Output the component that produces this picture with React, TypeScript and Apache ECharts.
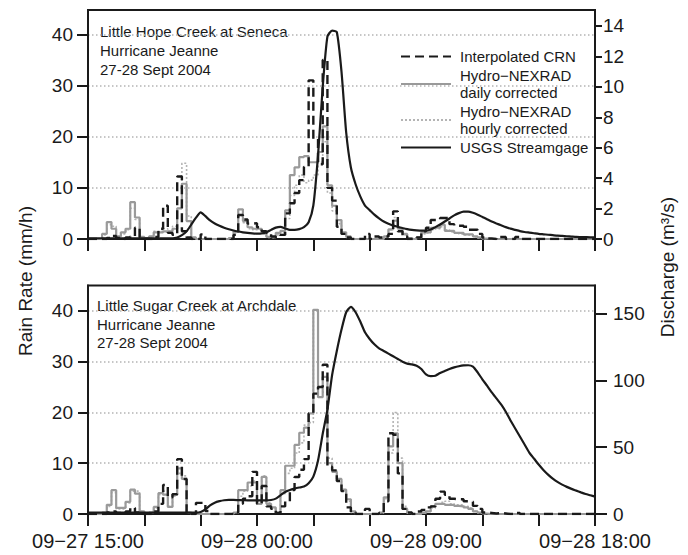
import React, { useEffect, useRef } from "react";
import * as echarts from "echarts";

// x = hours since 2004-09-27 00:00; rain data every 15 minutes from 15:00
const START_H = 15;
const END_H = 42;
const STEP_H = 0.25;
const X_LABELS: Record<number, string> = {
  15: "09\u221227 15:00",
  24: "09\u221228 00:00",
  33: "09\u221228 09:00",
  42: "09\u221228 18:00",
};

const NAME_CRN = "Interpolated CRN";
const NAME_DAILY = "Hydro\u2212NEXRAD\ndaily corrected";
const NAME_HOURLY = "Hydro\u2212NEXRAD\nhourly corrected";
const NAME_USGS = "USGS Streamgage";

const RAIN_TICKS = [0, 10, 20, 30, 40];
const TOP_Q_TICKS = [0, 2, 4, 6, 8, 10, 12, 14];
const BOT_Q_TICKS = [0, 50, 100, 150];

// ---------- Little Hope Creek at Seneca (rain mm/h, 15-min steps) ----------
const topCRN = [
  0, 0, 0, 0, 0.2, 0.6, 0.2, 0, 0.3, 0.5, 2.2, 0.3,
  0, 0, 0.4, 2.0, 6.5, 1.2, 0.8, 12.2, 1.5, 0.3, 0, 0,
  0.9, 0, 0, 0, 0, 0, 0, 0.8, 4.7, 3.8, 3.0, 3.1,
  2.3, 1.5, 1.2, 0.5, 0.3, 0.8, 5.0, 7.0, 9.0, 11.5, 14.1, 31.0,
  19.3, 14.6, 35.0, 10.0, 7.5, 2.4, 1.0, 0.3, 0, 0, 0, 1.0,
  0, 0.5, 0.3, 0.5, 1.0, 5.4, 1.5, 0.5, 0, 0, 0.3, 1.5,
  2.2, 3.7, 3.7, 4.1, 4.1, 2.9, 2.6, 2.6, 2.4, 1.8, 1.8, 1.0,
  0.3, 0.1, 0, 0.4, 0.4, 0, 0, 0.4, 0, 0, 0, 0,
  0, 0, 0, 0, 0, 0, 0, 0, 0, 0, 0, 0,
];
const topDaily = [
  0, 0, 0, 1.0, 3.3, 2.0, 0.5, 1.3, 2.0, 7.2, 4.2, 0.4,
  0.2, 0.5, 1.3, 1.3, 1.5, 1.5, 2.0, 6.0, 10.8, 3.5, 0.3, 0,
  0, 0, 0, 0, 0, 0, 0.2, 1.5, 5.8, 3.5, 2.3, 2.0,
  2.0, 1.2, 0.4, 0.3, 1.2, 1.6, 5.6, 12.5, 14.0, 16.0, 16.2, 15.0,
  15.0, 17.0, 22.0, 10.5, 6.5, 3.7, 1.3, 0.5, 0, 0, 0, 0,
  0, 0, 0, 0.5, 1.9, 3.6, 2.0, 1.0, 0.2, 0, 0.3, 1.3,
  1.3, 2.2, 2.2, 2.8, 1.6, 1.6, 1.2, 1.2, 0.9, 0.9, 0.5, 0.3,
  0.1, 0, 0, 0, 0, 0, 0, 0, 0, 0, 0, 0,
  0, 0, 0, 0, 0, 0, 0, 0, 0, 0, 0, 0,
];
const topHourly = [
  0, 0, 0, 0.8, 2.8, 2.5, 0.5, 1.0, 1.8, 6.0, 3.8, 0.4,
  0.2, 0.5, 1.5, 1.5, 2.0, 1.5, 2.5, 6.0, 14.8, 4.5, 0.3, 0,
  0, 0, 0, 0, 0, 0, 0.2, 1.2, 4.5, 3.2, 2.0, 1.8,
  1.8, 1.0, 0.3, 0.2, 0.8, 1.2, 4.0, 8.5, 10.5, 12.5, 11.0, 11.5,
  12.5, 15.0, 19.0, 9.0, 5.5, 3.0, 1.0, 0.3, 0, 0, 0, 0,
  0, 0, 0, 0.4, 1.8, 4.2, 2.2, 0.8, 0.1, 0, 0.2, 1.0,
  1.2, 1.8, 2.0, 2.4, 1.8, 1.4, 1.2, 1.0, 0.8, 0.7, 0.4, 0.2,
  0, 0, 0, 0, 0, 0, 0, 0, 0, 0, 0, 0,
  0, 0, 0, 0, 0, 0, 0, 0, 0, 0, 0, 0,
];
// discharge m3/s, 15-min points 15:00 .. 18:00 next day
const topUSGS = [
  0.05, 0.05, 0.05, 0.05, 0.05, 0.05, 0.05, 0.05, 0.05, 0.05, 0.05, 0.05,
  0.05, 0.05, 0.05, 0.05, 0.05, 0.05, 0.05, 0.1, 0.25, 0.5, 0.95, 1.4,
  1.75, 1.5, 1.22, 1.02, 0.87, 0.74, 0.64, 0.56, 0.49, 0.44, 0.4, 0.37,
  0.35, 0.36, 0.45, 0.6, 0.75, 0.8, 0.7, 0.6, 0.6, 0.65, 0.78, 1.1,
  2.2, 5.5, 10.0, 13.3, 13.7, 13.6, 11.0, 7.0, 4.7, 3.6, 2.8, 2.2,
  1.9, 1.6, 1.36, 1.15, 1.0, 0.88, 0.8, 0.72, 0.65, 0.6, 0.57, 0.55,
  0.55, 0.62, 0.78, 0.95, 1.15, 1.35, 1.55, 1.7, 1.8, 1.8, 1.72, 1.6,
  1.45, 1.3, 1.15, 1.02, 0.9, 0.78, 0.68, 0.6, 0.52, 0.46, 0.42, 0.38,
  0.34, 0.31, 0.28, 0.25, 0.22, 0.2, 0.18, 0.16, 0.14, 0.13, 0.12, 0.11,
  0.11,
];

// ---------- Little Sugar Creek at Archdale ----------
const botCRN = [
  0, 0, 0, 0, 0.3, 0.5, 0.2, 0.2, 0.5, 1.2, 0.3, 0,
  0, 0, 0.5, 2.0, 5.7, 3.3, 3.9, 10.8, 6.9, 0.3, 0, 2.2,
  2.2, 0.6, 0, 0, 0, 0, 0, 0.3, 2.0, 3.0, 3.5, 8.3,
  2.0, 5.5, 1.5, 1.0, 0.2, 1.5, 2.5, 4.7, 7.3, 8.7, 10.8, 19.8,
  23.7, 25.0, 29.4, 9.3, 8.6, 6.5, 4.5, 1.3, 0.3, 0, 0, 1.0,
  0, 0, 0.2, 2.5, 15.9, 15.6, 8.0, 1.0, 0.3, 0, 0.5, 0.8,
  1.3, 1.5, 3.0, 4.4, 3.8, 3.0, 2.9, 2.9, 2.5, 2.4, 1.6, 1.0,
  0.3, 0.2, 0.1, 0.2, 0.1, 0, 0, 0.2, 0, 0, 0, 0,
  0, 0, 0, 0, 0, 0, 0, 0, 0, 0, 0, 0,
];
const botDaily = [
  0, 0, 0, 0.3, 1.8, 4.7, 1.2, 1.2, 2.4, 4.8, 4.0, 0.5,
  0, 0.3, 1.4, 4.1, 3.8, 1.4, 3.9, 9.0, 6.9, 0.3, 0, 0,
  0, 0, 0, 0, 0, 0, 0, 0.3, 4.7, 4.7, 6.2, 6.2,
  2.0, 7.3, 2.0, 1.3, 0.3, 4.7, 9.5, 9.5, 13.6, 16.0, 17.0, 19.8,
  40.2, 23.0, 27.0, 10.0, 8.3, 6.9, 4.8, 2.9, 0.5, 0, 0, 0,
  0, 0, 0.3, 3.3, 13.3, 15.9, 10.0, 1.0, 0.2, 0, 0, 0.2,
  0.5, 1.5, 2.0, 2.0, 1.8, 1.8, 1.6, 1.5, 1.3, 1.0, 0.5, 0.3,
  0.1, 0, 0, 0, 0, 0, 0, 0, 0, 0, 0, 0,
  0, 0, 0, 0, 0, 0, 0, 0, 0, 0, 0, 0,
];
const botHourly = [
  0, 0, 0, 0.3, 1.5, 4.2, 1.0, 1.0, 2.2, 4.5, 4.5, 0.5,
  0, 0.3, 1.2, 3.8, 4.5, 1.5, 3.5, 8.0, 7.5, 0.3, 0, 0,
  0, 0, 0, 0, 0, 0, 0, 0.2, 3.5, 4.5, 5.5, 6.5,
  2.5, 7.5, 2.2, 1.0, 0.3, 4.0, 8.0, 9.0, 12.0, 14.0, 17.5, 18.0,
  40.2, 25.0, 24.0, 11.0, 8.5, 6.5, 4.5, 2.5, 0.3, 0, 0, 0,
  0, 0, 0.2, 3.0, 12.0, 20.0, 11.0, 1.5, 0.2, 0, 0, 0.2,
  0.5, 1.2, 2.0, 2.3, 2.5, 2.0, 1.8, 1.8, 1.5, 1.2, 0.6, 0.2,
  0, 0, 0, 0, 0, 0, 0, 0, 0, 0, 0, 0,
  0, 0, 0, 0, 0, 0, 0, 0, 0, 0, 0, 0,
];
const botUSGS = [
  1.0, 1.0, 1.0, 1.0, 1.0, 1.0, 1.0, 1.0, 1.0, 1.0, 1.0, 1.0,
  1.0, 1.0, 1.0, 1.0, 1.0, 1.0, 1.0, 1.0, 1.0, 1.0, 1.0, 1.0,
  1.5, 3.5, 6.5, 8.5, 9.6, 10.3, 10.5, 10.5, 10.4, 10.3, 10.2, 10.2,
  10.2, 10.2, 10.2, 10.5, 11.5, 14.0, 16.5, 18.0, 19.0, 19.8, 20.5, 23.0,
  28.0, 40.0, 60.0, 78.0, 104.0, 122.0, 138.0, 151.0, 155.0, 151.0, 144.0, 136.0,
  131.0, 127.0, 124.0, 122.0, 120.0, 118.0, 116.0, 114.0, 112.5, 112.0, 111.0, 108.5,
  104.5, 103.2, 103.5, 105.5, 107.0, 108.5, 109.7, 110.6, 111.2, 111.3, 110.3, 106.0,
  100.8, 96.0, 91.0, 86.5, 82.0, 76.5, 70.0, 64.0, 58.0, 52.0, 46.0, 41.5,
  37.0, 33.0, 29.5, 26.5, 24.0, 22.0, 20.3, 18.8, 17.5, 16.2, 15.0, 14.0,
  13.0,
];

const FONT = "'Liberation Sans', Arial, Helvetica, sans-serif";
const INK = "#1a1a1a";
const GRAY = "#9a9a9a";
const LIGHT = "#b4b4b4";

function stepData(vals: number[]) {
  const d: [number, number][] = vals.map((v, i) => [START_H + i * STEP_H, v]);
  d.push([START_H + vals.length * STEP_H, vals[vals.length - 1]]);
  return d;
}
function lineData(vals: number[]) {
  return vals.map((v, i) => [START_H + i * STEP_H, v]);
}

function panelSeries(gi: number, yi: number, crn: number[], daily: number[], hourly: number[], usgs: number[], usgsAxis: number) {
  return [
    {
      name: NAME_HOURLY, type: "line", step: "end", xAxisIndex: gi, yAxisIndex: yi,
      data: stepData(hourly), symbol: "none",
      lineStyle: { color: LIGHT, width: 1.6, type: [2, 2] }, itemStyle: { color: LIGHT },
    },
    {
      name: NAME_DAILY, type: "line", step: "end", xAxisIndex: gi, yAxisIndex: yi,
      data: stepData(daily), symbol: "none",
      lineStyle: { color: GRAY, width: 2.2 }, itemStyle: { color: GRAY },
    },
    {
      name: NAME_CRN, type: "line", step: "end", xAxisIndex: gi, yAxisIndex: yi,
      data: stepData(crn), symbol: "none",
      lineStyle: { color: INK, width: 2.4, type: [9, 5] }, itemStyle: { color: INK },
    },
    {
      name: NAME_USGS, type: "line", xAxisIndex: gi, yAxisIndex: usgsAxis,
      data: lineData(usgs), symbol: "none", smooth: 0.2,
      lineStyle: { color: INK, width: 2.2 }, itemStyle: { color: INK },
    },
  ];
}

function xAxis(gi: number, labels: boolean) {
  return {
    type: "value", gridIndex: gi, min: START_H, max: END_H, interval: 3,
    axisLine: { show: true, lineStyle: { color: INK, width: 2 } },
    axisTick: { show: true, inside: false, length: 12, lineStyle: { color: INK, width: 2 } },
    axisLabel: {
      show: labels, fontSize: 20, fontFamily: FONT, color: INK, margin: 17,
      formatter: (v: number) => X_LABELS[Math.round(v)] ?? "",
    },
    splitLine: { show: false },
  };
}

function yAxis(gi: number, pos: "left" | "right", max: number, ticks: number[], tickLen: number, margin: number, grid: boolean) {
  return {
    type: "value", gridIndex: gi, position: pos, min: 0, max,
    axisLine: { show: true, lineStyle: { color: INK, width: 2 } },
    axisTick: { show: true, inside: false, length: tickLen, customValues: ticks, lineStyle: { color: INK, width: 2 } },
    axisLabel: { fontSize: 19, fontFamily: FONT, color: INK, margin, customValues: ticks },
    splitLine: { show: grid, lineStyle: { color: LIGHT, width: 1.5, type: [1.5, 2.5] } },
  };
}

const option: any = {
  animation: false,
  backgroundColor: "#fff",
  textStyle: { fontFamily: FONT },
  grid: [
    { left: 88, top: 10, width: 507, height: 229, show: true, borderColor: INK, borderWidth: 2 },
    { left: 88, top: 285.5, width: 507, height: 228.5, show: true, borderColor: INK, borderWidth: 2 },
  ],
  xAxis: [xAxis(0, false), xAxis(1, true)],
  yAxis: [
    yAxis(0, "left", 44.75, RAIN_TICKS, 11, 15, true),
    yAxis(0, "right", 15.05, TOP_Q_TICKS, 7, 8, false),
    yAxis(1, "left", 45, RAIN_TICKS, 10, 15, true),
    yAxis(1, "right", 171, BOT_Q_TICKS, 12, 18, false),
  ],
  legend: {
    orient: "vertical", left: 400, top: 48, padding: 0, itemWidth: 50, itemHeight: 12, itemGap: 2,
    selectedMode: false,
    itemStyle: { opacity: 0 },
    data: [NAME_CRN, NAME_DAILY, NAME_HOURLY, NAME_USGS],
    textStyle: { fontSize: 15, lineHeight: 17, fontFamily: FONT, color: INK, padding: [0, 0, 0, 4] },
  },
  series: [
    ...panelSeries(0, 0, topCRN, topDaily, topHourly, topUSGS, 1),
    ...panelSeries(1, 2, botCRN, botDaily, botHourly, botUSGS, 3),
  ],
  graphic: [
    {
      type: "text", left: 100, top: 22,
      style: { text: "Little Hope Creek at Seneca\nHurricane Jeanne\n27-28 Sept 2004", font: `15px ${FONT}`, lineHeight: 19, fill: INK },
    },
    {
      type: "text", left: 97, top: 296.5,
      style: { text: "Little Sugar Creek at Archdale\nHurricane Jeanne\n27-28 Sept 2004", font: `15px ${FONT}`, lineHeight: 18.5, fill: INK },
    },
    {
      type: "text", x: 25, y: 281, rotation: Math.PI / 2,
      style: { text: "Rain Rate (mm/h)", font: `19px ${FONT}`, fill: INK, align: "center", verticalAlign: "middle" },
    },
    {
      type: "text", x: 667, y: 267, rotation: Math.PI / 2,
      style: { text: "Discharge (m\u00b3/s)", font: `19px ${FONT}`, fill: INK, align: "center", verticalAlign: "middle" },
    },
  ],
};

export default function App() {
  const ref = useRef<HTMLDivElement>(null);
  useEffect(() => {
    const chart = echarts.init(ref.current!, null, { renderer: "svg" });
    chart.setOption(option);
    return () => chart.dispose();
  }, []);
  return <div ref={ref} style={{ position: "fixed", left: 0, top: 0, width: 688, height: 555 }} />;
}
